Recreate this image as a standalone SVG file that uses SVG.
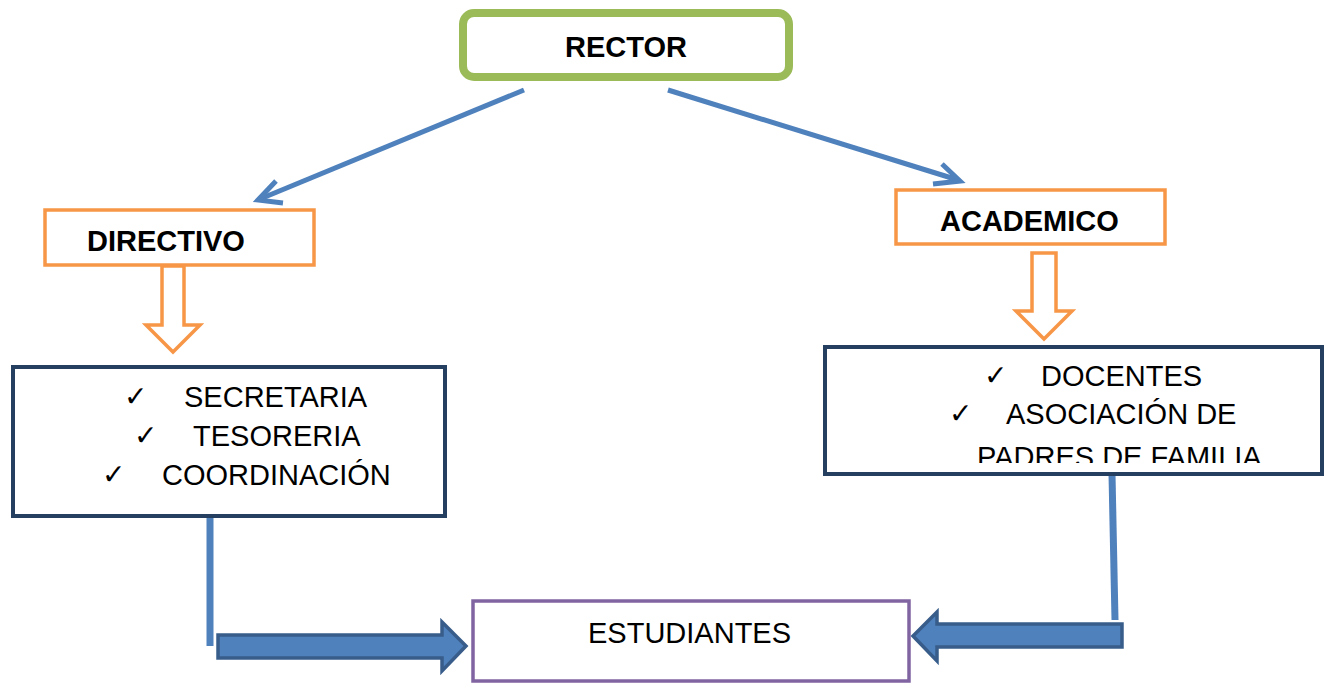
<svg xmlns="http://www.w3.org/2000/svg" width="1329" height="684" viewBox="0 0 1329 684">
<style>
.t{font-family:"Liberation Sans",Arial,sans-serif;font-size:29px;fill:#000}
.b{font-weight:bold}
.ck{font-family:"DejaVu Sans",sans-serif;font-size:28px;fill:#000}
.orange{fill:#fff;stroke:#F79646;stroke-width:3.5}
.navy{fill:#fff;stroke:#243F60;stroke-width:4}
.ln{fill:none;stroke:#4F81BD;stroke-width:5;stroke-linecap:butt}
.vln{fill:none;stroke:#4F81BD;stroke-width:7}
.blk{fill:#4F81BD;stroke:#385D8A;stroke-width:3.5;stroke-linejoin:miter}
.hol{fill:#fff;stroke:#F79646;stroke-width:3.5;stroke-linejoin:miter}
</style>
<defs>
<clipPath id="clipR"><rect x="823" y="346" width="505" height="117"/></clipPath>
</defs>
<rect width="1329" height="684" fill="#fff"/>

<g id="connectors">
<path class="ln" d="M524,90 L260,199"/>
<path class="ln" d="M276,181 L258,200 L283,203" stroke-linejoin="miter"/>
<path class="ln" d="M668,90 L958,180"/>
<path class="ln" d="M942,164 L960,181 L933,184" stroke-linejoin="miter"/>
<path class="hol" d="M162,266 L184,266 L184,325 L200,325 L173,352 L146,325 L162,325 Z"/>
<path class="hol" d="M1032,253 L1056,253 L1056,311 L1072,311 L1044,339 L1016,311 L1032,311 Z"/>
<path class="vln" d="M210,517 L210,646"/>
<path class="blk" d="M218,635 L442,635 L442,622 L466,646 L442,671 L442,658 L218,658 Z"/>
<path class="vln" d="M1112,474 L1115,620"/>
<path class="blk" d="M1122,624 L937,624 L937,612 L913,636 L937,661 L937,647 L1122,647 Z"/>
</g>

<g id="rector">
<rect x="463" y="13" width="326" height="64" rx="11" fill="#fff" stroke="#9BBB59" stroke-width="8"/>
<text class="t b" x="626" y="57" text-anchor="middle">RECTOR</text>
</g>

<g id="directivo">
<rect class="orange" x="45" y="210" width="269" height="55"/>
<text class="t b" x="87" y="251">DIRECTIVO</text>
</g>

<g id="academico">
<rect class="orange" x="896" y="190" width="269" height="54"/>
<text class="t b" x="940" y="231">ACADEMICO</text>
</g>

<g id="directivo-list">
<rect class="navy" x="13" y="367" width="432" height="149"/>
<text class="ck" x="124" y="406">✓</text>
<text class="t" x="184" y="407">SECRETARIA</text>
<text class="ck" x="134" y="445">✓</text>
<text class="t" x="193" y="446">TESORERIA</text>
<text class="ck" x="102" y="484">✓</text>
<text class="t" x="162" y="485">COORDINACIÓN</text>
</g>

<g id="academico-list">
<rect class="navy" x="825" y="347" width="497" height="127"/>
<text class="ck" x="984" y="385">✓</text>
<text class="t" x="1041" y="386">DOCENTES</text>
<text class="ck" x="949" y="423">✓</text>
<text class="t" x="1006" y="424">ASOCIACIÓN DE</text>
<text class="t" x="977" y="467" clip-path="url(#clipR)">PADRES DE FAMILIA</text>
</g>

<g id="estudiantes">
<rect x="473" y="601" width="436" height="80" fill="#fff" stroke="#8064A2" stroke-width="3.5"/>
<text class="t" x="588" y="643">ESTUDIANTES</text>
</g>
</svg>
